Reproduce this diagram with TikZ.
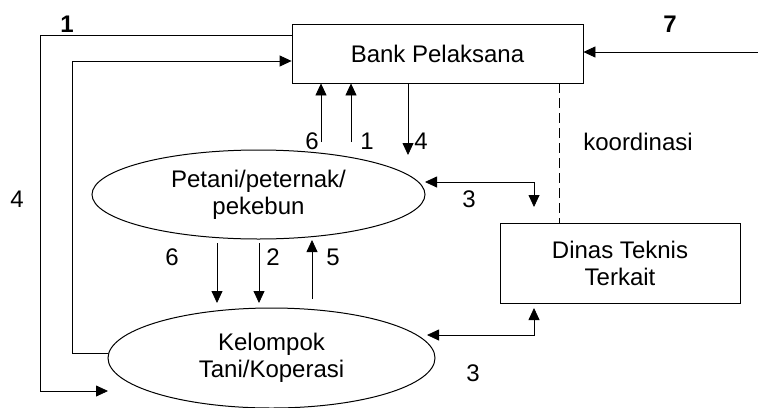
\documentclass[tikz,border=0pt]{standalone}
\usepackage{fontspec}
\setmainfont{Liberation Sans}
\usetikzlibrary{positioning, arrows.meta, shapes.geometric}
\tikzset{
  >={Triangle[length=6pt, width=5.5pt]}, ->, line width=0.75pt,
  font=\fontsize{12}{13.5}\selectfont,
  kotak/.style={draw, rectangle, align=center, inner sep=0pt},
  elips/.style={draw, line width=0.5pt, ellipse, align=center, inner sep=0pt},
  angka/.style={inner sep=0pt}
}

\begin{document}
\begin{tikzpicture}[x=0.5pt, y=-0.5pt]
    \useasboundingbox (0,0) rectangle (758,407);

    \node[kotak, minimum width=145.5pt, minimum height=29.5pt] (bank) at (437.5,53.5) {Bank Pelaksana};
    \node[elips, minimum width=166.5pt, minimum height=44.5pt] (petani) at (258.5,194.5) {Petani/peternak/\\pekebun};
    \node[elips, minimum width=163.5pt, minimum height=50pt] (kelompok) at (271.5,358) {Kelompok\\Tani/Koperasi};
    \node[kotak, minimum width=120pt, minimum height=40pt] (dinas) at (620,263) {Dinas Teknis\\Terkait};

    % ujung bebas
    \coordinate (in7) at (758,52);
    \coordinate (k4) at (108,391);
    \coordinate (up6) at (321,142);
    \coordinate (up1) at (351,142);
    \coordinate (dn4) at (408,155);
    \coordinate (p3) at (425,182);
    \coordinate (d3) at (534,207);
    \coordinate (k3) at (427,335);
    \coordinate (d3b) at (534,308);
    \coordinate (a6) at (217,243);
    \coordinate (a2) at (259,243);
    \coordinate (a5) at (312,299);

    \draw (in7) -- (bank.east |- in7);
    \draw (bank.west |- 0,35) -| (40,391) -- (k4);
    \draw ([yshift=2.5pt]kelompok.west) -| (72,61) -- (bank.west |- 0,61);
    \draw (up6) -- (up6 |- bank.south);
    \draw (up1) -- (up1 |- bank.south);
    \draw (dn4 |- bank.south) -- (dn4);
    \draw[-, dashed, dash pattern=on 5pt off 2.5pt] (bank.south -| 559,0) -- (dinas.north -| 559,0);
    \draw[<->] (p3) -| (d3);
    \draw[<->] (k3) -| (d3b);
    \draw (a6) -- (a6 |- 0,303);
    \draw (a2) -- (a2 |- 0,303);
    \draw (a5) -- (a5 |- 0,240);

    \node[angka] (l1) at (67,24) {\textbf{1}};
    \node[angka] (l7) at (670,24) {\textbf{7}};
    \node[angka] (l4) at (17,199) {4};
    \node[angka] (l6a) at (312,141) {6};
    \node[angka] (l1b) at (367,141) {1};
    \node[angka] (l4b) at (421,141) {4};
    \node[angka] (koord) at (638,142) {koordinasi};
    \node[angka] (l3a) at (469,199) {3};
    \node[angka] (l3b) at (473,373) {3};
    \node[angka] (l6b) at (172,257) {6};
    \node[angka] (l2) at (273,257) {2};
    \node[angka] (l5) at (333,257) {5};
\end{tikzpicture}
\end{document}
